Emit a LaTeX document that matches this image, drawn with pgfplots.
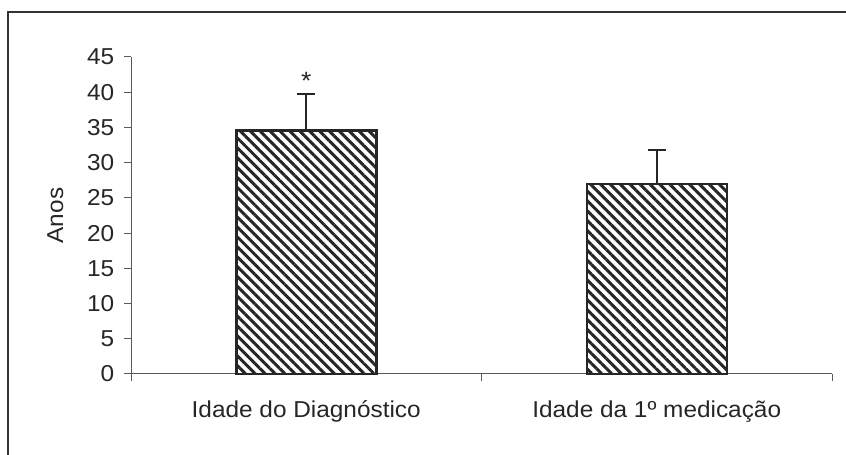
\documentclass[border=0pt]{standalone}
\usepackage{pgfplots}
\pgfplotsset{compat=1.18}
\usepackage{fontspec}
\setmainfont{Liberation Sans}[FakeStretch=1.06]
\usetikzlibrary{patterns.meta}
\begin{document}
\fontsize{23}{27}\selectfont
\begin{tikzpicture}[x=1pt,y=1pt]
\useasboundingbox (0,0) rectangle (846,455);
\draw[line width=2pt, black!80] (8,443) rectangle (870,-20);
\begin{axis}[
  at={(131pt,81pt)}, anchor=south west,
  width=701pt, height=317pt, scale only axis,
  xmin=-0.5, xmax=1.5, ymin=0, ymax=45,
  axis x line*=bottom, axis y line*=left,
  axis line style={line width=1pt, black!65},
  tick style={line width=1pt, black!65},
  tick align=outside, major tick length=7pt,
  ytick={0,5,...,45},
  yticklabel style={xshift=-2pt},
  xtick={-0.5,0.5,1.5}, xticklabels={},
  extra x ticks={0,1},
  extra x tick labels={Idade do Diagnóstico, Idade da 1º medicação},
  extra x tick style={grid=none, major tick length=0pt,
    tick label style={yshift=-19pt}},
  ylabel={Anos},
  ylabel style={at={(axis description cs:-0.108,0.5)}, anchor=center},
  every tick label/.append style={font=\fontsize{23}{27}\selectfont, text=black!85},
  label style={font=\fontsize{23}{27}\selectfont, text=black!85},
  /pgf/number format/assume math mode=true,
  clip=false,
]
\addplot[ybar, bar width=140pt, draw=black!85, line width=2.5pt,
  pattern={Lines[angle=-45, distance=7pt, line width=3pt]}, pattern color=black!85,
  error bars/.cd, y dir=plus, y explicit,
  error bar style={line width=2pt, black!85},
  error mark options={rotate=90, mark size=9pt, line width=2pt, black!85}]
  coordinates {(0,34.6) +- (0,5.2) (1,27.0) +- (0,4.8)};
\node[anchor=base, text=black!85, font=\fontsize{25}{27}\selectfont] at (axis cs:0,40.4) {*};
\end{axis}
\end{tikzpicture}
\end{document}
